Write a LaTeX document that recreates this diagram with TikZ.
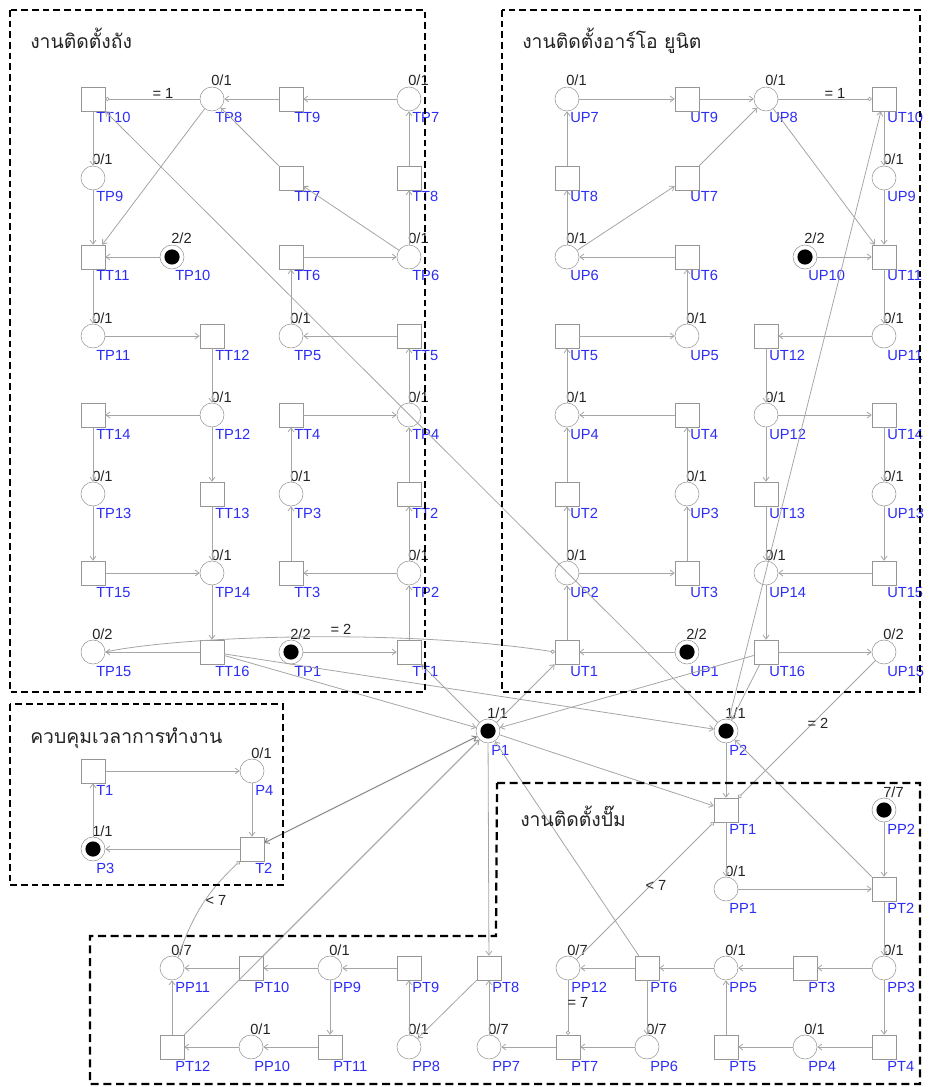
\documentclass[tikz,border=0pt]{standalone}
\usepackage{fontspec}
\setmainfont{Liberation Sans}
\newfontfamily\thaifont[Script=Thai]{Loma}
\usetikzlibrary{arrows.meta}
\definecolor{ln}{RGB}{165,165,165}
\definecolor{nb}{RGB}{150,150,150}
\definecolor{bl}{RGB}{45,45,245}
\definecolor{tk}{RGB}{35,35,35}
\tikzset{
 place/.style={circle,draw=nb,fill=white,minimum size=18pt,inner sep=0pt},
 trans/.style={rectangle,draw=nb,fill=white,minimum size=18pt,inner sep=0pt},
 tok/.style={anchor=base west,inner sep=0pt,text=tk,font=\fontsize{11}{13}\selectfont},
 nm/.style={anchor=base west,inner sep=0pt,text=bl,font=\fontsize{11}{13}\selectfont},
 pa/.style={draw=ln,line width=0.6pt,-{Straight Barb[length=3pt,width=4.5pt]}},
 pab/.style={draw=ln!80!black,line width=0.7pt,{Straight Barb[length=3pt,width=4.5pt]}-{Straight Barb[length=3pt,width=4.5pt]}},
 tarc/.style={draw=ln,line width=0.6pt,-{Circle[length=3.2pt,fill=white]}},
 frame/.style={draw=black,line width=1.2pt,dash pattern=on 5pt off 3pt},
 frameb/.style={draw=black,line width=1.7pt,dash pattern=on 6pt off 3.5pt},
 ttl/.style={anchor=base west,inner sep=0pt,text=tk,font=\thaifont\fontsize{14.5}{18}\selectfont},
 elab/.style={inner sep=0pt,text=tk,font=\fontsize{11}{13}\selectfont}
}
\newcommand\mkP[4]{\node[place] (#1) at (#2,#3) {};
 \node[tok] at ([shift={(-1,-13)}]#1.center) {#4};
 \node[nm] at ([shift={(3,24)}]#1.center) {#1};}
\newcommand\mkF[4]{\node[place] (#1) at (#2,#3) {};
 \fill[black] (#1.center) circle[radius=5.7pt];
 \node[tok] at ([shift={(-1,-13)}]#1.center) {#4};
 \node[nm] at ([shift={(3,24)}]#1.center) {#1};}
\newcommand\mkT[3]{\node[trans] (#1) at (#2,#3) {};
 \node[nm] at ([shift={(3,24)}]#1.center) {#1};}
\begin{document}
\begin{tikzpicture}[x=0.75pt,y=-0.75pt]
\path[use as bounding box] (0,0) rectangle (929,1087);
% ---------------- tank section
\mkT{TT10}{93}{99}\mkP{TP8}{212}{99}{0/1}\mkT{TT9}{291}{99}\mkP{TP7}{409}{99}{0/1}
\mkP{TP9}{93}{178}{0/1}\mkT{TT7}{291}{178}\mkT{TT8}{409}{178}
\mkT{TT11}{93}{257}\mkF{TP10}{172}{257}{2/2}\mkT{TT6}{291}{257}\mkP{TP6}{409}{257}{0/1}
\mkP{TP11}{93}{336}{0/1}\mkT{TT12}{212}{336}\mkP{TP5}{291}{336}{0/1}\mkT{TT5}{409}{336}
\mkT{TT14}{93}{415}\mkP{TP12}{212}{415}{0/1}\mkT{TT4}{291}{415}\mkP{TP4}{409}{415}{0/1}
\mkP{TP13}{93}{494}{0/1}\mkT{TT13}{212}{494}\mkP{TP3}{291}{494}{0/1}\mkT{TT2}{409}{494}
\mkT{TT15}{93}{573}\mkP{TP14}{212}{573}{0/1}\mkT{TT3}{291}{573}\mkP{TP2}{409}{573}{0/1}
\mkP{TP15}{93}{652}{0/2}\mkT{TT16}{212}{652}\mkF{TP1}{291}{652}{2/2}\mkT{TT1}{409}{652}
% ---------------- RO unit section
\mkP{UP7}{567}{99}{0/1}\mkT{UT9}{687}{99}\mkP{UP8}{766}{99}{0/1}\mkT{UT10}{884}{99}
\mkT{UT8}{567}{178}\mkT{UT7}{687}{178}\mkP{UP9}{884}{178}{0/1}
\mkP{UP6}{567}{257}{0/1}\mkT{UT6}{687}{257}\mkF{UP10}{805}{257}{2/2}\mkT{UT11}{884}{257}
\mkT{UT5}{567}{336}\mkP{UP5}{687}{336}{0/1}\mkT{UT12}{766}{336}\mkP{UP11}{884}{336}{0/1}
\mkP{UP4}{567}{415}{0/1}\mkT{UT4}{687}{415}\mkP{UP12}{766}{415}{0/1}\mkT{UT14}{884}{415}
\mkT{UT2}{567}{494}\mkP{UP3}{687}{494}{0/1}\mkT{UT13}{766}{494}\mkP{UP13}{884}{494}{0/1}
\mkP{UP2}{567}{573}{0/1}\mkT{UT3}{687}{573}\mkP{UP14}{766}{573}{0/1}\mkT{UT15}{884}{573}
\mkT{UT1}{567}{652}\mkF{UP1}{687}{652}{2/2}\mkT{UT16}{766}{652}\mkP{UP15}{884}{652}{0/2}
% ---------------- control section
\mkT{T1}{93}{771}\mkP{P4}{252}{771}{0/1}
\mkF{P3}{93}{849}{1/1}\mkT{T2}{252}{849}
\mkF{P1}{488}{731}{1/1}\mkF{P2}{726}{731}{1/1}
% ---------------- pump section
\mkT{PT1}{726}{810}\mkF{PP2}{884}{810}{7/7}
\mkP{PP1}{726}{889}{0/1}\mkT{PT2}{884}{889}
\mkP{PP11}{172}{968}{0/7}\mkT{PT10}{251}{968}\mkP{PP9}{330}{968}{0/1}\mkT{PT9}{409}{968}
\mkT{PT8}{489}{968}\mkP{PP12}{568}{968}{0/7}\mkT{PT6}{647}{968}\mkP{PP5}{726}{968}{0/1}
\mkT{PT3}{805}{968}\mkP{PP3}{884}{968}{0/1}
\mkT{PT12}{172}{1047}\mkP{PP10}{251}{1047}{0/1}\mkT{PT11}{330}{1047}\mkP{PP8}{409}{1047}{0/1}
\mkP{PP7}{489}{1047}{0/7}\mkT{PT7}{568}{1047}\mkP{PP6}{647}{1047}{0/7}\mkT{PT5}{726}{1047}
\mkP{PP4}{805}{1047}{0/1}\mkT{PT4}{884}{1047}
% ---------------- arcs tank
\foreach \a/\b in {TT9/TP8,TP7/TT9,TT8/TP7,TP6/TT8,TP6/TT7,TT7/TP8,TP8/TT11,TT10/TP9,TP9/TT11,
 TP10/TT11,TT6/TP6,TP5/TT6,TT5/TP5,TT11/TP11,TP11/TT12,TT12/TP12,TP12/TT14,TP12/TT13,TT14/TP13,
 TP13/TT15,TT15/TP14,TT13/TP14,TP14/TT16,TT16/TP15,TT4/TP4,TP3/TT4,TT3/TP3,TP2/TT3,TT2/TP4,
 TP2/TT2,TT1/TP2,TP1/TT1,TP4/TT5}
 \draw[pa] (\a) -- (\b);
% ---------------- arcs RO
\foreach \a/\b in {UP7/UT9,UT9/UP8,UT7/UP8,UP8/UT11,UT10/UP9,UP9/UT11,UP10/UT11,UT8/UP7,UP6/UT8,
 UP6/UT7,UT6/UP6,UP5/UT6,UT5/UP5,UT11/UP11,UP11/UT12,UT12/UP12,UP12/UT14,UP12/UT13,UT14/UP13,
 UP13/UT15,UT15/UP14,UT13/UP14,UP14/UT16,UT16/UP15,UP4/UT5,UT4/UP4,UP3/UT4,UT3/UP3,UP2/UT3,
 UT2/UP4,UP2/UT2,UT1/UP2,UP1/UT1}
 \draw[pa] (\a) -- (\b);
% ---------------- cross arcs
\foreach \a/\b in {P2/TT10,P2/UT10,UT16/P2,TT16/P2,TT16/P1,P1/TT1,P1/UT1,UT16/P1,P1/PT1,P2/PT1,
 PT2/P2,PT6/P1,P1/PT8,PT10/P1,PT12/P1,T1/P4,P4/T2,T2/P3,P3/T1}
 \draw[pa] (\a) -- (\b);
\draw[pab] (T2) -- (P1);
% ---------------- arcs pump
\foreach \a/\b in {PP2/PT2,PT1/PP1,PP1/PT2,PT2/PP3,PP3/PT3,PT3/PP5,PP3/PT4,PT4/PP4,PP4/PT5,
 PT5/PP5,PP5/PT6,PT6/PP12,PT6/PP6,PP6/PT7,PT7/PP7,PP7/PT8,PT8/PP8,PP8/PT9,PT9/PP9,PP9/PT10,
 PT10/PP11,PP9/PT11,PT11/PP10,PP10/PT12,PT12/PP11}
 \draw[pa] (\a) -- (\b);
% ---------------- test arcs
\draw[tarc] (TP8) -- (TT10);
\draw[tarc] (UP8) -- (UT10);
\draw[tarc] (TP15.east) .. controls (180,636) and (400,628) .. (UT1.west);
\draw[tarc] (UP15) -- (PT1);
\draw[tarc] (PP12) -- (PT1);
\draw[tarc] (PP12) -- (PT7);
\draw[tarc] (PP11.60) to[bend left=14] (T2.south west);
\node[elab] (l1) at (163,93) {= 1};
\node[elab] (l2) at (835,93) {= 1};
\node[elab] (l3) at (341,629) {= 2};
\node[elab] (l4) at (818,723) {= 2};
\node[elab] (l5) at (656,885) {< 7};
\node[elab] (l6) at (578,1002) {= 7};
\node[elab] (l7) at (216,900) {< 7};
% ---------------- frames and titles
\draw[frame] (10,10) rectangle (425,692);
\draw[frame] (502,10) rectangle (920,692);
\draw[frame] (10,704) rectangle (283,885);
\draw[frameb] (497,783) -- (920,783) -- (920,1084) -- (90,1084) -- (90,936) -- (496,936) -- cycle;
\node[ttl] (t1) at (30,49) {งานติดตั้งถัง};
\node[ttl] (t2) at (522,49) {งานติดตั้งอาร์โอ ยูนิต};
\node[ttl] (t3) at (30,743) {ควบคุมเวลาการทำงาน};
\node[ttl] (t4) at (520,826) {งานติดตั้งปั๊ม};
\end{tikzpicture}
\end{document}
